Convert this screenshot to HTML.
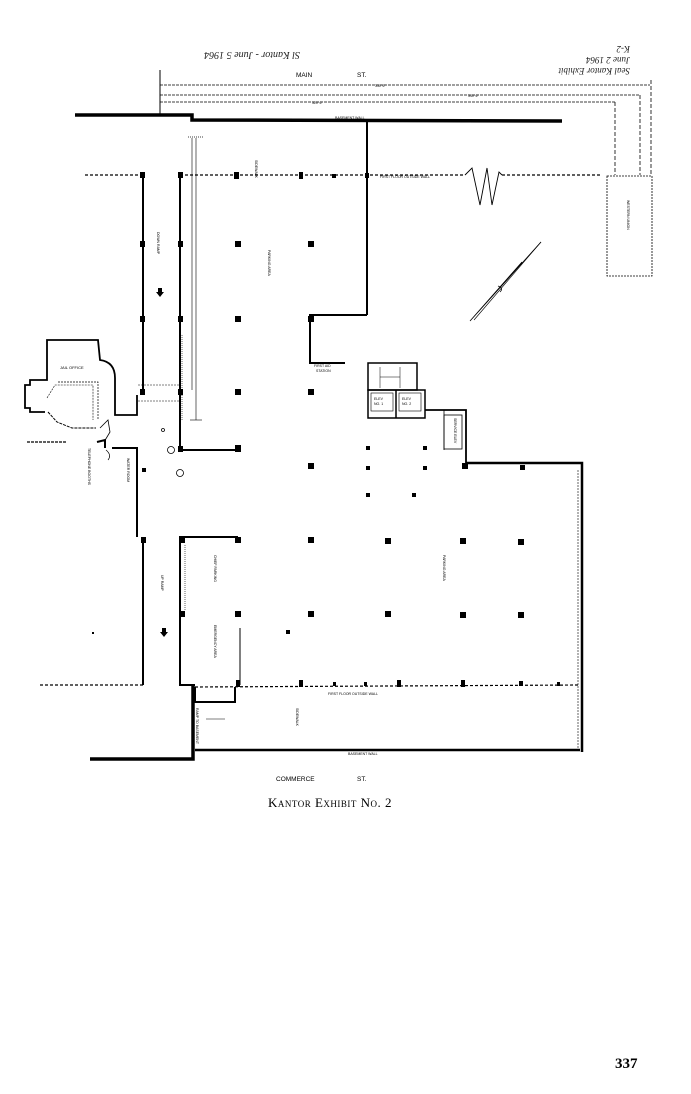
<!DOCTYPE html>
<html><head><meta charset="utf-8"><style>
html,body{margin:0;padding:0;background:#fff;}
svg{display:block;}
.t{font-family:"Liberation Sans",sans-serif;font-size:4px;fill:#000;}
</style></head><body>
<svg width="691" height="1094" viewBox="0 0 691 1094" xmlns="http://www.w3.org/2000/svg">
<rect width="691" height="1094" fill="#fff"/>
<g fill="none" stroke="#000">
<text x="0" y="0" transform="translate(300,52) rotate(180)" style="font-family:'Liberation Serif',serif;font-size:10px;font-style:italic;stroke:none;fill:#222">Sl Kantor - June 5 1964</text>
<text x="0" y="0" transform="translate(630,68) rotate(180)" style="font-family:'Liberation Serif',serif;font-size:9px;font-style:italic;stroke:none;fill:#222">Seal Kantor Exhibit</text>
<text x="0" y="0" transform="translate(630,57) rotate(180)" style="font-family:'Liberation Serif',serif;font-size:9px;font-style:italic;stroke:none;fill:#222">June 2 1964</text>
<text x="0" y="0" transform="translate(630,46) rotate(180)" style="font-family:'Liberation Serif',serif;font-size:9px;font-style:italic;stroke:none;fill:#222">K-2</text>

<line x1="160" y1="70" x2="160" y2="114" stroke-width="1"/>
<line x1="160" y1="85" x2="650" y2="85" stroke-width="0.8" stroke-dasharray="3,1"/>
<line x1="160" y1="95" x2="640" y2="95" stroke-width="0.8" stroke-dasharray="3,1"/>
<line x1="160" y1="102" x2="615" y2="102" stroke-width="0.8" stroke-dasharray="3,1"/>
<line x1="651" y1="80" x2="651" y2="175" stroke-width="0.8" stroke-dasharray="4,2"/>
<line x1="640" y1="95" x2="640" y2="175" stroke-width="0.8" stroke-dasharray="4,2"/>
<line x1="615" y1="102" x2="615" y2="175" stroke-width="0.8" stroke-dasharray="4,2"/>

<polyline points="75,115 192,115 192,120 562,121" stroke-width="3.5"/>
<line x1="367" y1="121" x2="367" y2="315" stroke-width="2"/>
<polyline points="367,315 310,315 310,363 345,363" stroke-width="2"/>

<line x1="85" y1="175" x2="143" y2="175" stroke-width="1.2" stroke-dasharray="3,2"/>
<line x1="180" y1="175" x2="465" y2="175" stroke-width="1.2" stroke-dasharray="3,2"/>
<polyline points="465,175 472,168 480,205 487,168 492,205 499,172 502,175" stroke-width="0.9"/>
<line x1="502" y1="175" x2="600" y2="175" stroke-width="1.2" stroke-dasharray="3,2"/>
<rect x="607" y="176" width="45" height="100" stroke-width="0.8" stroke-dasharray="2,1"/>

<line x1="143" y1="175" x2="143" y2="395" stroke-width="2"/>
<line x1="180" y1="175" x2="180" y2="450" stroke-width="2"/>
<polyline points="180,450 238,450" stroke-width="2"/>
<line x1="188" y1="137" x2="203" y2="137" stroke-width="0.8" stroke-dasharray="1,1"/>
<line x1="192" y1="138" x2="192" y2="390" stroke-width="0.6"/>
<line x1="196" y1="138" x2="196" y2="420" stroke-width="0.6"/>
<line x1="190" y1="420" x2="202" y2="420" stroke-width="0.6"/>
<line x1="138" y1="385" x2="180" y2="385" stroke-width="0.5" stroke-dasharray="2,1"/>
<line x1="138" y1="401" x2="180" y2="401" stroke-width="0.5" stroke-dasharray="2,1"/>
<line x1="182" y1="335" x2="182" y2="420" stroke-width="0.6" stroke-dasharray="1,1"/>

<!-- jail office -->
<path d="M137,395 L137,415 L115,415 L115,378 Q115,362 100,360 L98,340 L47,340 L47,380 L30,380 L30,385 L25,385 L25,408 L30,408 L30,412 L45,412" stroke-width="1.8"/>
<polyline points="48,412 57,422 72,428 96,428" stroke-width="1" stroke-dasharray="3,1"/>
<polyline points="58,382 98,382 98,420" stroke-width="0.7" stroke-dasharray="2,1"/>
<polyline points="47,398 55,385 93,385 93,420" stroke-width="0.6" stroke-dasharray="2,1"/>
<polyline points="100,428 108,420 110,432 104,442" stroke-width="0.8"/>
<line x1="27" y1="442" x2="67" y2="442" stroke-width="1.2" stroke-dasharray="3,1"/>
<polyline points="97,442 105,440 105,448" stroke-width="2"/>
<polyline points="112,448 137,448 137,537" stroke-width="2"/>
<path d="M106,450 Q112,455 108,460" stroke-width="0.7"/>

<circle cx="171" cy="450" r="3.5" stroke-width="0.8"/>
<circle cx="180" cy="473" r="3.5" stroke-width="0.8"/>
<circle cx="163" cy="430" r="1.5" stroke-width="0.8"/>

<line x1="143" y1="537" x2="143" y2="685" stroke-width="2"/>
<line x1="40" y1="685" x2="143" y2="685" stroke-width="1.2" stroke-dasharray="3,2"/>
<polyline points="238,537 180,537 180,685 195,685" stroke-width="2"/>
<line x1="185" y1="545" x2="185" y2="610" stroke-width="0.6" stroke-dasharray="1,1"/>
<line x1="240" y1="628" x2="240" y2="685" stroke-width="1"/>

<polyline points="90,759 193,759 193,685" stroke-width="3.5"/>
<polyline points="195,687 195,702 235,702 235,687" stroke-width="2"/>
<line x1="195" y1="750" x2="580" y2="750" stroke-width="2.5"/>
<line x1="195" y1="687" x2="580" y2="685" stroke-width="1.2" stroke-dasharray="3,2"/>
<line x1="206" y1="719" x2="225" y2="719" stroke-width="0.6"/>

<rect x="368" y="363" width="49" height="27" stroke-width="1.5"/>
<line x1="380" y1="367" x2="380" y2="388" stroke-width="0.5"/>
<line x1="400" y1="367" x2="400" y2="388" stroke-width="0.5"/>
<line x1="380" y1="377" x2="400" y2="377" stroke-width="0.5"/>
<rect x="368" y="390" width="57" height="28" stroke-width="1.5"/>
<line x1="396" y1="390" x2="396" y2="418" stroke-width="1.5"/>
<rect x="371" y="393" width="22" height="18" stroke-width="0.6"/>
<rect x="399" y="393" width="22" height="18" stroke-width="0.6"/>
<polyline points="425,410 466,410 466,467" stroke-width="1.8"/>
<rect x="444" y="415" width="18" height="34" stroke-width="0.8"/>
<line x1="444" y1="410" x2="444" y2="450" stroke-width="0.8"/>
<polyline points="466,463 582,463 582,752" stroke-width="2.5"/>
<line x1="578" y1="470" x2="578" y2="750" stroke-width="0.6" stroke-dasharray="2,1"/>

<polyline points="541,242 470,321 522,262" stroke-width="0.8"/>
<polyline points="541,242 474,320" stroke-width="0.6"/>
<path d="M498,286 q6,2 2,6" stroke-width="0.8"/>
</g>

<g fill="#000">
<rect x="140" y="172" width="5" height="6"/><rect x="178" y="172" width="5" height="6"/>
<rect x="234" y="172" width="5" height="7"/><rect x="299" y="172" width="4" height="7"/><rect x="332" y="174" width="4" height="4"/><rect x="365" y="173" width="4" height="5"/>
<rect x="140" y="241" width="5" height="6"/><rect x="178" y="241" width="5" height="6"/>
<rect x="235" y="241" width="6" height="6"/><rect x="308" y="241" width="6" height="6"/>
<rect x="140" y="316" width="5" height="6"/><rect x="178" y="316" width="5" height="6"/>
<rect x="235" y="316" width="6" height="6"/><rect x="308" y="316" width="6" height="6"/>
<rect x="140" y="389" width="5" height="6"/><rect x="178" y="389" width="5" height="6"/>
<rect x="235" y="389" width="6" height="6"/><rect x="308" y="389" width="6" height="6"/>
<rect x="178" y="446" width="5" height="6"/><rect x="235" y="445" width="6" height="7"/>
<rect x="142" y="468" width="4" height="4"/>
<rect x="366" y="446" width="4" height="4"/><rect x="423" y="446" width="4" height="4"/>
<rect x="308" y="463" width="6" height="6"/><rect x="366" y="466" width="4" height="4"/><rect x="423" y="466" width="4" height="4"/><rect x="462" y="463" width="6" height="6"/><rect x="520" y="465" width="5" height="5"/>
<rect x="366" y="493" width="4" height="4"/><rect x="412" y="493" width="4" height="4"/>
<rect x="141" y="537" width="5" height="6"/><rect x="180" y="537" width="5" height="6"/><rect x="235" y="537" width="6" height="6"/>
<rect x="308" y="537" width="6" height="6"/><rect x="385" y="538" width="6" height="6"/><rect x="460" y="538" width="6" height="6"/><rect x="518" y="539" width="6" height="6"/>
<rect x="180" y="611" width="5" height="6"/><rect x="235" y="611" width="6" height="6"/>
<rect x="308" y="611" width="6" height="6"/><rect x="385" y="611" width="6" height="6"/><rect x="460" y="612" width="6" height="6"/><rect x="518" y="612" width="6" height="6"/>
<rect x="286" y="630" width="4" height="4"/><rect x="92" y="632" width="2" height="2"/>
<rect x="236" y="680" width="4" height="7"/><rect x="299" y="680" width="4" height="7"/><rect x="333" y="682" width="3" height="4"/><rect x="364" y="682" width="3" height="4"/><rect x="397" y="680" width="4" height="7"/><rect x="461" y="680" width="4" height="7"/><rect x="519" y="681" width="4" height="5"/><rect x="557" y="682" width="3" height="4"/>
<path d="M158,288 h4 v4 h2 l-4,5 l-4,-5 h2z"/>
<path d="M162,628 h4 v4 h2 l-4,5 l-4,-5 h2z"/>
</g>

<g class="t">
<text x="296" y="77" style="font-size:6.5px">MAIN</text>
<text x="357" y="77" style="font-size:6.5px">ST.</text>
<text x="375" y="87" style="font-size:3.5px">330' 6"</text>
<text x="468" y="97" style="font-size:3.5px">340' 6"</text>
<text x="312" y="104" style="font-size:3.5px">320' 6"</text>
<text x="335" y="119" style="font-size:3.5px">BASEMENT WALL</text>
<text x="380" y="178" style="font-size:3.5px">FIRST FLOOR OUTSIDE WALL</text>
<text x="328" y="695" style="font-size:3.5px">FIRST FLOOR OUTSIDE WALL</text>
<text x="348" y="755" style="font-size:3.5px">BASEMENT WALL</text>
<text x="314" y="367" style="font-size:3.5px">FIRST AID</text>
<text x="316" y="372" style="font-size:3.5px">STATION</text>
<text x="374" y="400" style="font-size:3.5px">ELEV</text><text x="374" y="405" style="font-size:3.5px">NO. 1</text>
<text x="402" y="400" style="font-size:3.5px">ELEV</text><text x="402" y="405" style="font-size:3.5px">NO. 2</text>
<text x="60" y="369" style="font-size:4px">JAIL OFFICE</text>
<text x="276" y="781" style="font-size:6.5px">COMMERCE</text>
<text x="357" y="781" style="font-size:6.5px">ST.</text>
<text transform="translate(255,160) rotate(90)" style="font-size:3.5px">SIDEWALK</text>
<text transform="translate(268,250) rotate(90)" style="font-size:3.5px">PARKING AREA</text>
<text transform="translate(157,232) rotate(90)" style="font-size:3.5px">DOWN   RAMP</text>
<text transform="translate(161,575) rotate(90)" style="font-size:3.5px">UP    RAMP</text>
<text transform="translate(214,555) rotate(90)" style="font-size:3.5px">CHIEF PARKING</text>
<text transform="translate(214,625) rotate(90)" style="font-size:3.5px">EMERGENCY AREA</text>
<text transform="translate(443,555) rotate(90)" style="font-size:3.5px">PARKING AREA</text>
<text transform="translate(296,708) rotate(90)" style="font-size:3.5px">SIDEWALK</text>
<text transform="translate(196,708) rotate(90)" style="font-size:3.5px">RAMP TO BASEMENT</text>
<text transform="translate(627,200) rotate(90)" style="font-size:3.5px">WESTERN    UNION</text>
<text transform="translate(88,448) rotate(90)" style="font-size:3.5px">TELEPHONE BOOTHS</text>
<text transform="translate(127,458) rotate(90)" style="font-size:3.5px">WATER ROOM</text>
<text transform="translate(454,418) rotate(90)" style="font-size:3.5px">SERVICE ELEV</text>
</g>

<text x="330" y="807" text-anchor="middle" style="font-family:'Liberation Serif',serif;font-size:13px;font-variant:small-caps;letter-spacing:0.5px">Kantor Exhibit No. 2</text>
<text x="615" y="1068" style="font-family:'Liberation Serif',serif;font-size:15px;font-weight:bold">337</text>
</svg>
</body></html>
